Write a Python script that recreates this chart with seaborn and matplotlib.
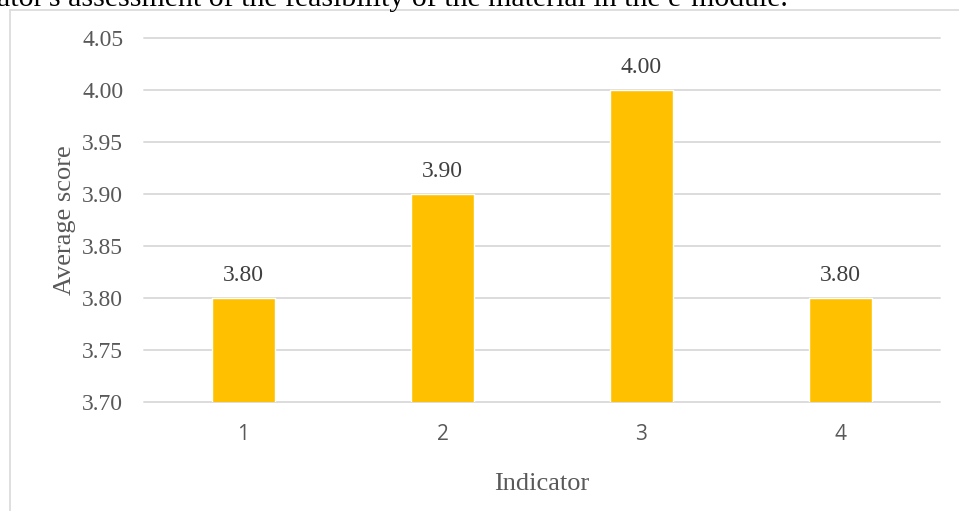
import pandas as pd
import seaborn as sns
import matplotlib.pyplot as plt
from matplotlib.lines import Line2D

# data
indicators = ["1", "2", "3", "4"]
scores = [3.80, 3.90, 4.00, 3.80]
y_ticks = [3.70, 3.75, 3.80, 3.85, 3.90, 3.95, 4.00, 4.05]
caption = "ator's assessment of the feasibility of the material in the e-module."

df = pd.DataFrame({"Indicator": indicators, "Average score": scores})

sns.set_style("white")
plt.rcParams["font.family"] = ["Liberation Serif", "DejaVu Serif"]

fig = plt.figure(figsize=(9.59, 5.11), dpi=100)
ax = fig.add_axes([144 / 959, 1 - 402 / 511, (940 - 144) / 959, (402 - 38) / 511])

sns.barplot(data=df, x="Indicator", y="Average score", color="#FFC000",
            width=0.316, saturation=1, ax=ax)

ax.set_ylim(3.70, 4.05)
ax.set_yticks(y_ticks)
ax.set_yticklabels([f"{t:.2f}" for t in y_ticks], fontsize=17, color="#595959")
ax.grid(axis="y", color="#D9D9D9", linewidth=1.3, clip_on=False)
ax.set_axisbelow(True)
for s in ax.spines.values():
    s.set_visible(False)
ax.tick_params(axis="both", length=0)
ax.tick_params(axis="y", pad=15)
ax.tick_params(axis="x", pad=16)
for lab in ax.get_xticklabels():
    lab.set_fontfamily(["Open Sans", "DejaVu Sans"])
    lab.set_fontsize(15)
    lab.set_color("#595959")

ax.bar_label(ax.containers[0], fmt="%.2f", padding=9, fontsize=17, color="#404040")

ax.set_xlabel("Indicator", fontsize=19, color="#595959", labelpad=20)
ax.set_ylabel("Average score", fontsize=19, color="#595959", labelpad=4)

# chart frame and cropped caption from the page
fig.add_artist(Line2D([10 / 959, 1], [1 - 10 / 511] * 2, color="#D9D9D9", linewidth=1.2))
fig.add_artist(Line2D([10 / 959] * 2, [0, 1 - 10 / 511], color="#D9D9D9", linewidth=1.2))
fig.text(-3 / 959, 1 - 6 / 511, caption, fontsize=21.5, color="black",
         ha="left", va="baseline")

plt.savefig("out.png", dpi=100)
plt.close()
